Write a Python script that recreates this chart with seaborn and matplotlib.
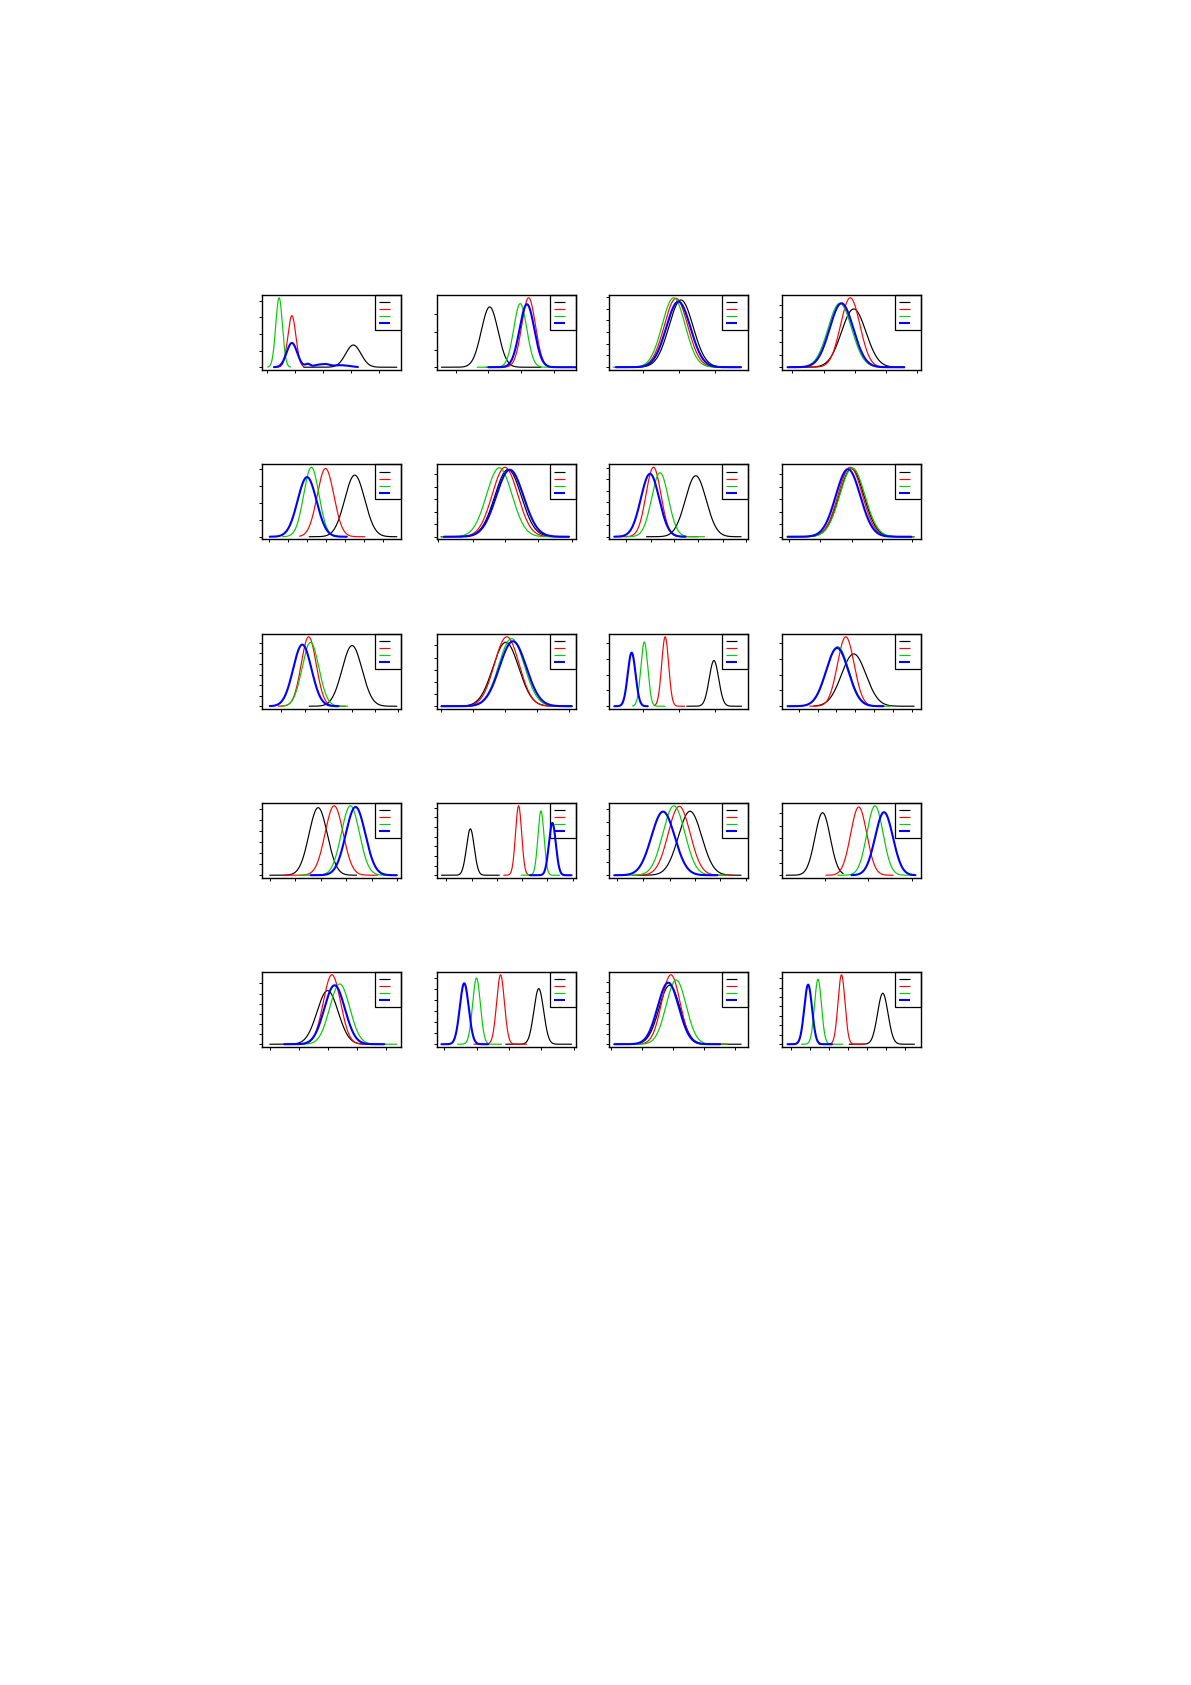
import numpy as np
import pandas as pd
import seaborn as sns
import matplotlib
matplotlib.use('Agg')
import matplotlib.pyplot as plt
from matplotlib.patches import Rectangle

#%% data (x in % of panel width, y relative to tallest curve of the panel)
series = ['black', 'red', 'green', 'blue']

mu_black = [65.7, 37.9, 51.8, 51.6, 66.7, 51.1, 62.4, 50.0, 64.8, 49.5,
            75.5, 51.6, 40.4, 24.0, 58.3, 29.2, 47.2, 73.2, 43.6, 72.5]
sd_black = [5.5, 6.0, 8.7, 8.8, 7.2, 9.5, 7.5, 8.9, 7.2, 9.3,
            3.4, 8.8, 6.6, 2.8, 8.4, 5.5, 7.6, 3.5, 7.6, 3.75]
pk_black = [0.32, 0.868, 0.968, 0.839, 0.887, 0.968, 0.878, 0.98, 0.873, 0.921,
            0.658, 0.753, 0.973, 0.667, 0.921, 0.90, 0.772, 0.801, 0.849, 0.734]
lo_black = [30, 3.2, 5, 5, 34, 3, 27, 4, 34, 3.2, 56, 23, 5.6, 3.2, 20, 3, 5.6, 49.5, 4, 48.4]
hi_black = [97, 74.8, 95, 88, 97, 95, 95, 95, 97, 97, 95.3, 95, 68, 44.8, 95, 44, 83, 96.8, 95, 95.3]

mu_red = [21.5, 65.9, 48.2, 49.1, 45.7, 48.9, 32.0, 49.1, 33.6, 50.2,
          40.4, 45.9, 51.9, 58.7, 50.5, 55.2, 50.3, 45.7, 44.5, 42.8]
sd_red = [2.9, 4.9, 8.4, 7.0, 6.0, 9.2, 5.4, 8.7, 5.4, 8.9,
          2.5, 6.0, 6.5, 2.2, 7.9, 5.8, 6.2, 2.8, 6.6, 2.5]
pk_red = [0.742, 1.0, 0.992, 1.0, 0.983, 1.0, 1.0, 1.0, 1.0, 1.0,
          1.0, 1.0, 1.0, 1.0, 0.992, 0.983, 1.0, 1.0, 1.0, 1.0]
lo_red = [9.4, 35.3, 4.5, 6, 27, 3, 8, 4, 11.7, 3.2, 32.6, 20, 16, 48, 17, 31.6, 19.4, 26.5, 10, 26.6]
hi_red = [30, 96.8, 93, 88, 74, 93, 64, 95, 60, 96, 54.5, 73, 83, 70, 89, 80, 86, 64.4, 85, 59.4]

mu_green = [12.3, 59.9, 46.5, 41.6, 35.5, 44.8, 36.7, 50.6, 34.9, 53.6,
            25.4, 40.0, 63.6, 74.8, 46.7, 66.9, 55.9, 28.4, 48.3, 25.9]
sd_green = [2.4, 4.7, 8.3, 8.5, 5.5, 9.2, 6.0, 9.0, 6.0, 9.2,
            2.5, 8.0, 6.5, 2.2, 7.9, 5.8, 7.2, 2.8, 7.2, 2.5]
pk_green = [1.0, 0.916, 1.0, 0.92, 1.0, 0.992, 0.921, 0.99, 0.921, 0.973,
            0.925, 0.858, 1.0, 0.925, 1.0, 1.0, 0.868, 0.954, 0.925, 0.935]
lo_green = [4, 29, 3, 4, 14.8, 3, 12, 4, 14, 3.2, 16.9, 4, 27, 60.6, 10, 40, 22, 14.8, 13, 14]
hi_green = [20.5, 82.6, 90, 88, 55, 90, 68.7, 95, 61.7, 97, 40.4, 78, 90, 88.3, 85, 95, 97, 46.4, 85, 43.8]

mu_blue = [21.5, 64.7, 49.9, 42.8, 32.4, 52.4, 29.5, 47.5, 29.0, 54.6,
           16.3, 39.7, 67.3, 83.0, 38.9, 73.4, 52.2, 19.6, 42.6, 18.8]
sd_blue = [3.8, 5.3, 8.7, 8.5, 6.8, 9.8, 6.6, 8.8, 6.6, 9.6,
           2.8, 8.0, 7.0, 2.5, 8.4, 6.4, 7.4, 3.2, 7.6, 2.8]
pk_blue = [0.35, 0.907, 0.945, 0.921, 0.858, 0.964, 0.906, 0.973, 0.887, 0.935,
           0.772, 0.839, 0.983, 0.753, 0.916, 0.907, 0.849, 0.878, 0.887, 0.858]
lo_blue = [8.6, 37, 5, 4, 5.6, 5, 3.8, 4, 5.6, 3.2, 3.8, 4, 35, 66.9, 3.8, 50, 16, 3.2, 3.8, 4]
hi_blue = [69, 100, 95, 88, 61, 95, 55, 93, 55, 97, 27.9, 73, 97, 96.8, 78, 96, 88, 36.9, 80, 36]

# extra bumps of the blue curve in the first panel (long right tail)
blue_p1_mu = [33, 40, 46, 55, 62]
blue_p1_sd = [1.8, 3, 3, 4, 4]
blue_p1_amp = [0.045, 0.03, 0.04, 0.025, 0.015]

# tick positions
xticks = [[3.9, 23.9, 44.0, 64.0, 84.2], [13.6, 37.0, 60.6, 84.0], [24.8, 50.5, 75.9],
          [7.5, 29.9, 52.3, 74.7, 97.1],
          [4.9, 18.8, 32.6, 46.3, 59.9, 73.5, 86.9], [0.9, 25.6, 49.2, 72.9, 96.8],
          [12.5, 30.1, 47.0, 64.3, 81.8, 98.7], [5.3, 27.5, 50.0, 71.9, 93.8],
          [13.6, 30.6, 47.8, 64.5, 81.5, 98.1], [3.2, 26.2, 49.2, 72.2, 95.3],
          [24.5, 50.5, 75.9], [11.9, 25.6, 39.1, 52.8, 66.3, 79.7, 93.4],
          [5.6, 24.1, 42.6, 60.5, 79.0, 96.9], [6.6, 24.9, 43.2, 60.9, 79.2, 97.5],
          [6.0, 24.8, 43.6, 61.8, 79.9, 98.7], [30.6, 62.2, 93.8],
          [5.6, 26.5, 47.5, 68.2, 89.5], [5.0, 28.7, 51.7, 75.1, 98.4],
          [1.3, 23.5, 45.8, 68.0, 90.6], [6.3, 20.3, 34.1, 47.5, 60.9, 74.7, 88.4]]
ytick_step = [0.24, 0.255, 0.169, 0.18, 0.245, 0.18, 0.166, 0.18, 0.152, 0.175,
              0.228, 0.228, 0.16, 0.139, 0.192, 0.178, 0.146, 0.158, 0.149, 0.136]
ytick_n = [5, 4, 7, 6, 5, 6, 7, 6, 7, 6, 5, 5, 7, 8, 6, 6, 7, 7, 7, 8]

#%% styling
colors = {'black': '#000000', 'red': '#FF0000', 'green': '#00CD00', 'blue': '#0000FF'}
widths = {'black': 0.85, 'red': 0.85, 'green': 0.85, 'blue': 1.5}

sns.set_style('ticks')
plt.rcParams['font.family'] = ['DejaVu Sans']

params = {'black': (mu_black, sd_black, pk_black, lo_black, hi_black),
          'red': (mu_red, sd_red, pk_red, lo_red, hi_red),
          'green': (mu_green, sd_green, pk_green, lo_green, hi_green),
          'blue': (mu_blue, sd_blue, pk_blue, lo_blue, hi_blue)}

W, H = 1191, 1685
col_left = [262, 437, 609, 782]
row_top = [295, 464.5, 634, 803, 972]
pw, ph = 139, 75

fig = plt.figure(figsize=(W / 100, H / 100), dpi=100)

for i in range(20):
    r, c = divmod(i, 4)
    ax = fig.add_axes([col_left[c] / W, 1 - (row_top[r] + ph) / H, pw / W, ph / H])
    frames = []
    for s in series:
        mu, sd, pk, lo, hi = params[s]
        x = np.linspace(lo[i], hi[i], 400)
        y = pk[i] * np.exp(-0.5 * ((x - mu[i]) / sd[i]) ** 2)
        if s == 'blue' and i == 0:
            for m, d, a in zip(blue_p1_mu, blue_p1_sd, blue_p1_amp):
                y = y + a * np.exp(-0.5 * ((x - m) / d) ** 2)
        frames.append(pd.DataFrame({'x': x, 'y': y, 'curve': s}))
    df = pd.concat(frames, ignore_index=True)
    sns.lineplot(data=df, x='x', y='y', hue='curve', size='curve', hue_order=series,
                 size_order=series, palette=colors, sizes=widths, estimator=None,
                 sort=False, legend=False, ax=ax)
    ax.set_xlim(0, 100)
    ax.set_ylim(-0.04, 1.04)
    ax.set_xticks(xticks[i])
    ax.set_yticks(np.arange(ytick_n[i]) * ytick_step[i])
    ax.tick_params(direction='out', length=2.4, width=0.7, color='black',
                   labelbottom=False, labelleft=False)
    ax.set_xlabel('')
    ax.set_ylabel('')
    for sp in ax.spines.values():
        sp.set_visible(True)
        sp.set_color('black')
        sp.set_linewidth(1.0)
    # legend box without labels, like the original
    ax.add_patch(Rectangle((0.81, 0.535), 0.19, 0.465, transform=ax.transAxes,
                           fill=False, edgecolor='black', lw=0.9, clip_on=False))
    for k, s in enumerate(series):
        yy = 0.905 - k * 0.093
        ax.plot([0.845, 0.922], [yy, yy], transform=ax.transAxes, color=colors[s],
                lw=widths[s], solid_capstyle='butt')

fig.savefig('out.png', dpi=100, facecolor='white')
